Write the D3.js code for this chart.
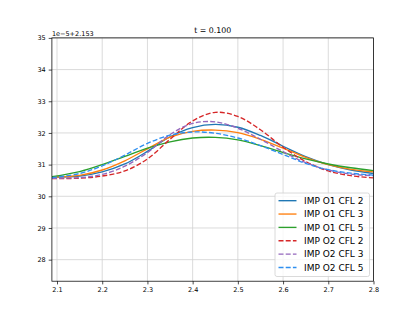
<!DOCTYPE html>
<html><head><meta charset="utf-8">
<script src="https://cdn.jsdelivr.net/npm/d3@7"></script>
<style>
html,body{margin:0;padding:0;background:#fff;}
svg{display:block;font-family:"DejaVu Sans",sans-serif;}
</style></head>
<body><svg id="c" width="415" height="316"></svg>
<script>
const xs = [2.089, 2.15, 2.2, 2.25, 2.3, 2.35, 2.4, 2.45, 2.5, 2.55, 2.6, 2.65, 2.7, 2.75, 2.8];
const o1cfl2 = [30.60, 30.64, 30.77, 31.02, 31.42, 31.88, 32.17, 32.27, 32.18, 31.92, 31.58, 31.25, 31.00, 30.83, 30.72];
const o1cfl3 = [30.60, 30.66, 30.83, 31.12, 31.50, 31.87, 32.05, 32.09, 32.01, 31.80, 31.52, 31.23, 31.00, 30.85, 30.77];
const o1cfl5 = [30.62, 30.78, 31.00, 31.26, 31.52, 31.72, 31.84, 31.86, 31.78, 31.60, 31.38, 31.18, 31.02, 30.90, 30.81];
const o2cfl2 = [30.56, 30.57, 30.64, 30.80, 31.18, 31.80, 32.38, 32.65, 32.52, 32.10, 31.55, 31.10, 30.80, 30.65, 30.58];
const o2cfl3 = [30.57, 30.59, 30.69, 30.95, 31.38, 31.95, 32.30, 32.35, 32.15, 31.80, 31.41, 31.06, 30.83, 30.70, 30.65];
const o2cfl5 = [30.59, 30.72, 30.96, 31.30, 31.67, 31.93, 32.03, 31.99, 31.84, 31.60, 31.32, 31.04, 30.84, 30.73, 30.67];
const labels = ["IMP O1 CFL 2","IMP O1 CFL 3","IMP O1 CFL 5","IMP O2 CFL 2","IMP O2 CFL 3","IMP O2 CFL 5"];
const colors = ["#1f77b4","#ff7f0e","#2ca02c","#d62728","#9467bd","#2f8ff0"];
const dashed = [false,false,false,true,true,true];
const xTicks = [2.1,2.2,2.3,2.4,2.5,2.6,2.7,2.8];
const yTicks = [28,29,30,31,32,33,34,35];
const title = "t = 0.100";
const offsetText = "1e\u22125+2.153";

const series = [o1cfl2,o1cfl3,o1cfl5,o2cfl2,o2cfl3,o2cfl5];
const L=51.9, R=373.5, T=37.9, B=281.2;
const svg = d3.select("#c");
const x = d3.scaleLinear().domain([2.0887, 2.8]).range([L, R]);
const y = d3.scaleLinear().domain([27.32, 35]).range([B, T]);

// grid
const g = svg.append("g");
g.selectAll(".gx").data(xTicks).enter().append("line")
  .attr("x1",d=>x(d)).attr("x2",d=>x(d)).attr("y1",T).attr("y2",B)
  .attr("stroke","#d2d2d2").attr("stroke-width",0.8);
g.selectAll(".gy").data(yTicks).enter().append("line")
  .attr("y1",d=>y(d)).attr("y2",d=>y(d)).attr("x1",L).attr("x2",R)
  .attr("stroke","#d2d2d2").attr("stroke-width",0.8);

// lines
const line = d3.line().x((d,i)=>x(xs[i])).y(d=>y(d)).curve(d3.curveCatmullRom.alpha(0.5));
svg.append("defs").append("clipPath").attr("id","clip").append("rect")
  .attr("x",L).attr("y",T).attr("width",R-L).attr("height",B-T);
const lg = svg.append("g").attr("clip-path","url(#clip)");
series.forEach((s,i)=>{
  lg.append("path").attr("d",line(s)).attr("fill","none")
    .attr("stroke",colors[i]).attr("stroke-width",1.35)
    .attr("stroke-dasharray",dashed[i]?"5,2.2":null);
});

// axes
const ax = svg.append("g").attr("transform",`translate(0,${B})`)
  .call(d3.axisBottom(x).tickValues(xTicks).tickFormat(d3.format(".1f")).tickSize(3.2).tickPadding(3).tickSizeOuter(0));
const ay = svg.append("g").attr("transform",`translate(${L},0)`)
  .call(d3.axisLeft(y).tickValues(yTicks).tickFormat(d3.format("d")).tickSize(3.2).tickPadding(3).tickSizeOuter(0));
[ax,ay].forEach(a=>{
  a.select(".domain").remove();
  a.selectAll("line").attr("stroke","#000").attr("stroke-width",0.7);
  a.selectAll("text").attr("font-family","DejaVu Sans").attr("font-size","6.5px").attr("fill","#000");
});
// spines
svg.append("rect").attr("x",L).attr("y",T).attr("width",R-L).attr("height",B-T)
  .attr("fill","none").attr("stroke","#000").attr("stroke-width",0.75);

// title & offset
svg.append("text").attr("x",(L+R)/2).attr("y",32.5).attr("text-anchor","middle")
  .attr("font-size","7.8px").text(title);
svg.append("text").attr("x",L).attr("y",36.3).attr("font-size","6.5px").text(offsetText);

// legend
const lx=275, ly=193, lw=94.5, lh=83.5;
svg.append("rect").attr("x",lx).attr("y",ly).attr("width",lw).attr("height",lh)
  .attr("rx",2).attr("fill","#fff").attr("fill-opacity",0.8).attr("stroke","#d0d0d0").attr("stroke-width",0.8);
labels.forEach((lab,i)=>{
  const cy = 200.7 + i*13.35;
  svg.append("line").attr("x1",278.5).attr("x2",296.5).attr("y1",cy).attr("y2",cy)
    .attr("stroke",colors[i]).attr("stroke-width",1.35)
    .attr("stroke-dasharray",dashed[i]?"5,2.2":null);
  svg.append("text").attr("x",304).attr("y",cy).attr("dy","0.35em")
    .attr("font-size","9px").text(lab);
});
</script></body></html>
